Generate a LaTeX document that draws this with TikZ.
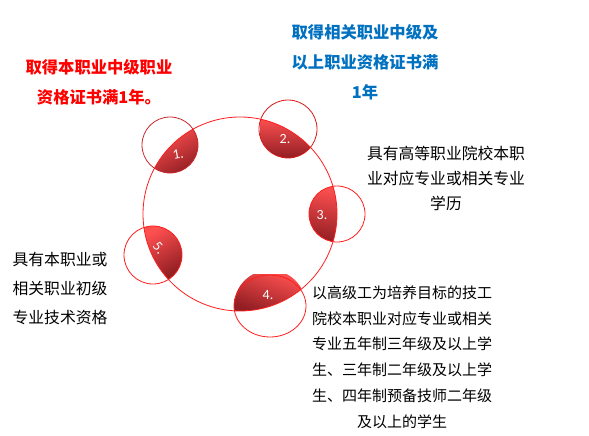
\documentclass[tikz,border=0pt]{standalone}
\usepackage{fontspec}
\usepackage{xcolor}
\setmainfont{Noto Sans CJK SC}
\newfontfamily\numfont{Carlito}
\usetikzlibrary{positioning}

\definecolor{ringred}{RGB}{255,30,30}
\definecolor{edgered}{RGB}{200,40,45}
\definecolor{lenstop}{RGB}{255,80,80}
\definecolor{lensbot}{RGB}{145,30,35}
\definecolor{titleblue}{RGB}{0,112,192}

\tikzset{
  lens/.style={top color=lenstop, bottom color=lensbot, shading angle=#1},
  ring/.style={draw=edgered, line width=0.8pt},
  num/.style={text=white, font=\numfont\fontsize{14}{14}\selectfont},
  redhead/.style={text=red, font=\bfseries\fontsize{16.3}{30}\selectfont, align=center},
  bluehead/.style={text=titleblue, font=\bfseries\fontsize{16.3}{30}\selectfont, align=center},
  plain/.style={text=black, font=\fontsize{15.8}{25}\selectfont, align=center},
}

\begin{document}
\begin{tikzpicture}[x=1pt, y=-1pt]
\useasboundingbox (0,0) rectangle (589,436);

% Big ring
\coordinate (hub) at (240,214);

% Lenses: small circle clipped by big ring, shaded over the lens box
\foreach \cx/\cy/\r/\ax/\ay/\bx/\by/\ang in {
    170/145/28/155/128/199/174/30,
    288/129/29/260/118/314/158/0,
    337/214/28/308/185/338/243/-10,
    153/255/29/144/226/182/278/30,
    270/306/36/234/274/307/311/-20} {
  \begin{scope}
    \clip (hub) circle (97);
    \clip (\cx,\cy) circle (\r);
    \shade[lens=\ang] (\ax,\ay) rectangle (\bx,\by);
  \end{scope}
}
% Small circles outlines
\draw[ring] (170,145) circle (28);
\draw[ring, draw=ringred!85!black] (288,129) circle (29);
\draw[ring, draw=ringred] (337,214) circle (28);
\draw[ring, draw=ringred] (153,255) circle (29);
\draw[ring, draw=ringred] (270,306) circle [x radius=36, y radius=31];

\draw[ringred, line width=0.8pt] (hub) circle (97);

% Numbers
\node[num, rotate=10] (n1) at (178,154) {1.};
\node[num] (n2) at (285,139) {2.};
\node[num] (n3) at (322,215) {3.};
\node[num] (n4) at (268,295) {4.};
\node[num, rotate=-50, inner sep=0pt] (n5) at (159,248) {5.};

% Headings
\node[redhead] (cond1) at (99,82) {取得本职业中级职业\\资格证书满1年。};
\node[bluehead] (cond2) at (365,62) {取得相关职业中级及\\以上职业资格证书满\\1年};

% Conditions
\node[plain] (cond3) at (446,178) {具有高等职业院校本职\\业对应专业或相关专业\\学历};
\node[plain, font=\fontsize{15}{25.8}\selectfont] (cond4) at (402,357) {以高级工为培养目标的技工\\院校本职业对应专业或相关\\专业五年制三年级及以上学\\生、三年制二年级及以上学\\生、四年制预备技师二年级\\及以上的学生};
\node[plain, font=\fontsize{15.8}{29}\selectfont] (cond5) at (60,289) {具有本职业或\\相关职业初级\\专业技术资格};
\end{tikzpicture}
\end{document}
